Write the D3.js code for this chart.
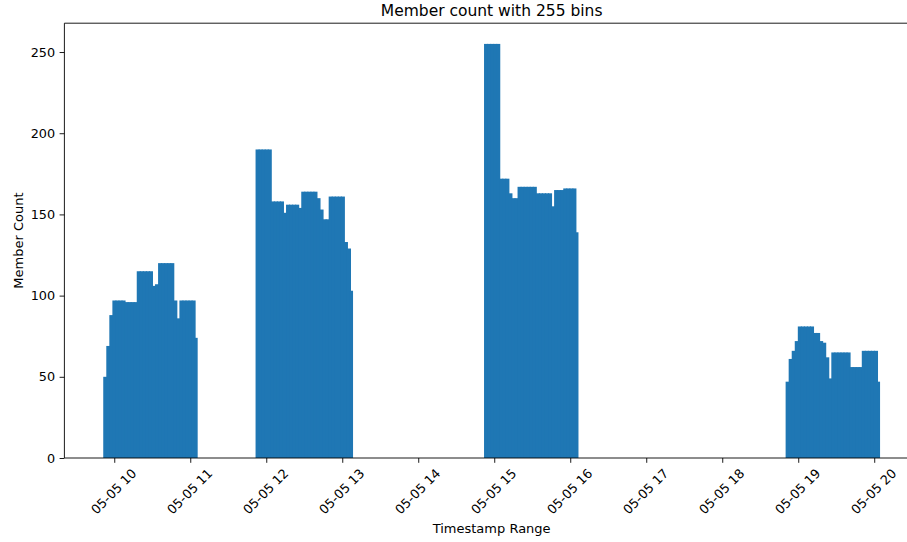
<!DOCTYPE html>
<html>
<head>
<meta charset="utf-8">
<script src="https://cdn.jsdelivr.net/npm/d3@7"></script>
<style>
  html, body { margin: 0; padding: 0; background: #fff; overflow: hidden; }
  svg { display: block; font-family: "DejaVu Sans", sans-serif; }
</style>
</head>
<body>
<svg id="chart" width="907" height="542"></svg>
<script>
// ---- data ----
const title = "Member count with 255 bins";
const xLabel = "Timestamp Range";
const yLabel = "Member Count";
const nBins = 255;
const rangeStart = "2023-05-05T09:51:18";
const rangeEnd = "2023-05-05T20:04:36";
// each group of non-empty bins: index of its first bin, and the counts
const groupStartBins = [0, 50, 125, 224];
const group1Counts = [50, 69, 88, 97, 97, 97, 97, 96, 96, 96, 96, 115, 115, 115, 115, 115, 106, 107, 120, 120, 120, 120, 120, 97, 86, 97, 97, 97, 97, 97, 74];
const group2Counts = [190, 190, 190, 190, 190, 158, 158, 158, 158, 151, 156, 156, 156, 156, 154, 164, 164, 164, 164, 164, 160, 153, 147, 147, 161, 161, 161, 161, 161, 133, 129, 103];
const group3Counts = [255, 255, 255, 255, 255, 172, 172, 172, 163, 160, 160, 167, 167, 167, 167, 167, 167, 163, 163, 163, 163, 163, 155, 165, 165, 165, 166, 166, 166, 166, 139];
const group4Counts = [47, 61, 66, 72, 81, 81, 81, 81, 81, 77, 77, 72, 71, 62, 49, 65, 65, 65, 65, 65, 65, 56, 56, 56, 56, 66, 66, 66, 66, 66, 47];
const groupCounts = [group1Counts, group2Counts, group3Counts, group4Counts];
const yTicks = [0, 50, 100, 150, 200, 250];

// ---- build histogram bins ----
const t0 = new Date(rangeStart), t1 = new Date(rangeEnd);
const binMs = (t1 - t0) / nBins;
const counts = new Array(nBins).fill(0);
groupStartBins.forEach((s, g) => groupCounts[g].forEach((c, i) => { counts[s + i] = c; }));
const bins = counts.map((c, i) => ({
  x0: new Date(+t0 + i * binMs),
  x1: new Date(+t0 + (i + 1) * binMs),
  count: c
}));

// ---- layout ----
const svg = d3.select("#chart");
const plotLeft = 64.4, plotRight = 918.9, plotTop = 23.2, plotBottom = 458;
const span = t1 - t0;
const x = d3.scaleTime()
  .domain([new Date(+t0 - 0.05 * span), new Date(+t1 + 0.05 * span)])
  .range([plotLeft, plotRight]);
const yMax = d3.max(counts) * 1.05;
const y = d3.scaleLinear().domain([0, yMax]).range([plotBottom, plotTop]);

const color = "#1f77b4";
const textColor = "#000";

// bars (each bar overlaps the next slightly to avoid anti-alias seams)
const nonEmpty = bins.filter(d => d.count > 0);
svg.append("g").selectAll("rect")
  .data(nonEmpty)
  .join("rect")
  .attr("x", d => x(d.x0))
  .attr("width", (d, i) => {
    const next = nonEmpty[i + 1];
    const touches = next && +next.x0 === +d.x1;
    return x(d.x1) - x(d.x0) + (touches ? 1 : 0);
  })
  .attr("y", d => y(d.count))
  .attr("height", d => y(0) - y(d.count))
  .attr("fill", color);

// spines
const spine = svg.append("g").attr("stroke", "#000").attr("stroke-width", 0.9).attr("fill", "none");
spine.append("line").attr("x1", plotLeft).attr("x2", plotRight).attr("y1", plotTop).attr("y2", plotTop);
spine.append("line").attr("x1", plotLeft).attr("x2", plotRight).attr("y1", plotBottom).attr("y2", plotBottom);
spine.append("line").attr("x1", plotLeft).attr("x2", plotLeft).attr("y1", plotTop).attr("y2", plotBottom);
spine.append("line").attr("x1", plotRight).attr("x2", plotRight).attr("y1", plotTop).attr("y2", plotBottom);

// y axis
const yAxis = d3.axisLeft(y).tickValues(yTicks).tickSize(4.8).tickPadding(4.5);
const gy = svg.append("g").attr("transform", `translate(${plotLeft},0)`).call(yAxis);
gy.select(".domain").remove();
gy.selectAll("line").attr("stroke", "#000").attr("stroke-width", 0.9);
gy.selectAll("text").attr("font-size", 12.8).attr("fill", textColor)
  .attr("font-family", "DejaVu Sans, sans-serif");

// x axis
const fmt = d3.timeFormat("%m-%d %H");
const xAxis = d3.axisBottom(x).ticks(d3.timeHour.every(1)).tickFormat(fmt).tickSize(4.8);
const gx = svg.append("g").attr("transform", `translate(0,${plotBottom})`).call(xAxis);
gx.select(".domain").remove();
gx.selectAll("line").attr("stroke", "#000").attr("stroke-width", 0.9);
gx.selectAll(".tick text")
  .attr("font-size", 12.8).attr("fill", textColor)
  .attr("font-family", "DejaVu Sans, sans-serif")
  .attr("text-anchor", "middle")
  .attr("dominant-baseline", "central")
  .attr("dy", null)
  .attr("y", null)
  .each(function() {
    const w = this.getComputedTextLength();
    const h = 12.8;
    const H = (w + h) * Math.SQRT1_2;
    d3.select(this).attr("transform", `translate(-1,${8.5 + H / 2}) rotate(-45)`);
  });

// labels
svg.append("text").attr("x", (plotLeft + plotRight) / 2).attr("y", 10.5)
  .attr("text-anchor", "middle").attr("dominant-baseline", "central")
  .attr("font-size", 15.5).attr("fill", textColor).text(title);
svg.append("text").attr("x", (plotLeft + plotRight) / 2).attr("y", 528)
  .attr("text-anchor", "middle").attr("dominant-baseline", "central")
  .attr("font-size", 13).attr("fill", textColor).text(xLabel);
svg.append("text")
  .attr("transform", `translate(18,${(plotTop + plotBottom) / 2}) rotate(-90)`)
  .attr("text-anchor", "middle").attr("dominant-baseline", "central")
  .attr("font-size", 13).attr("fill", textColor).text(yLabel);
</script>
</body>
</html>
